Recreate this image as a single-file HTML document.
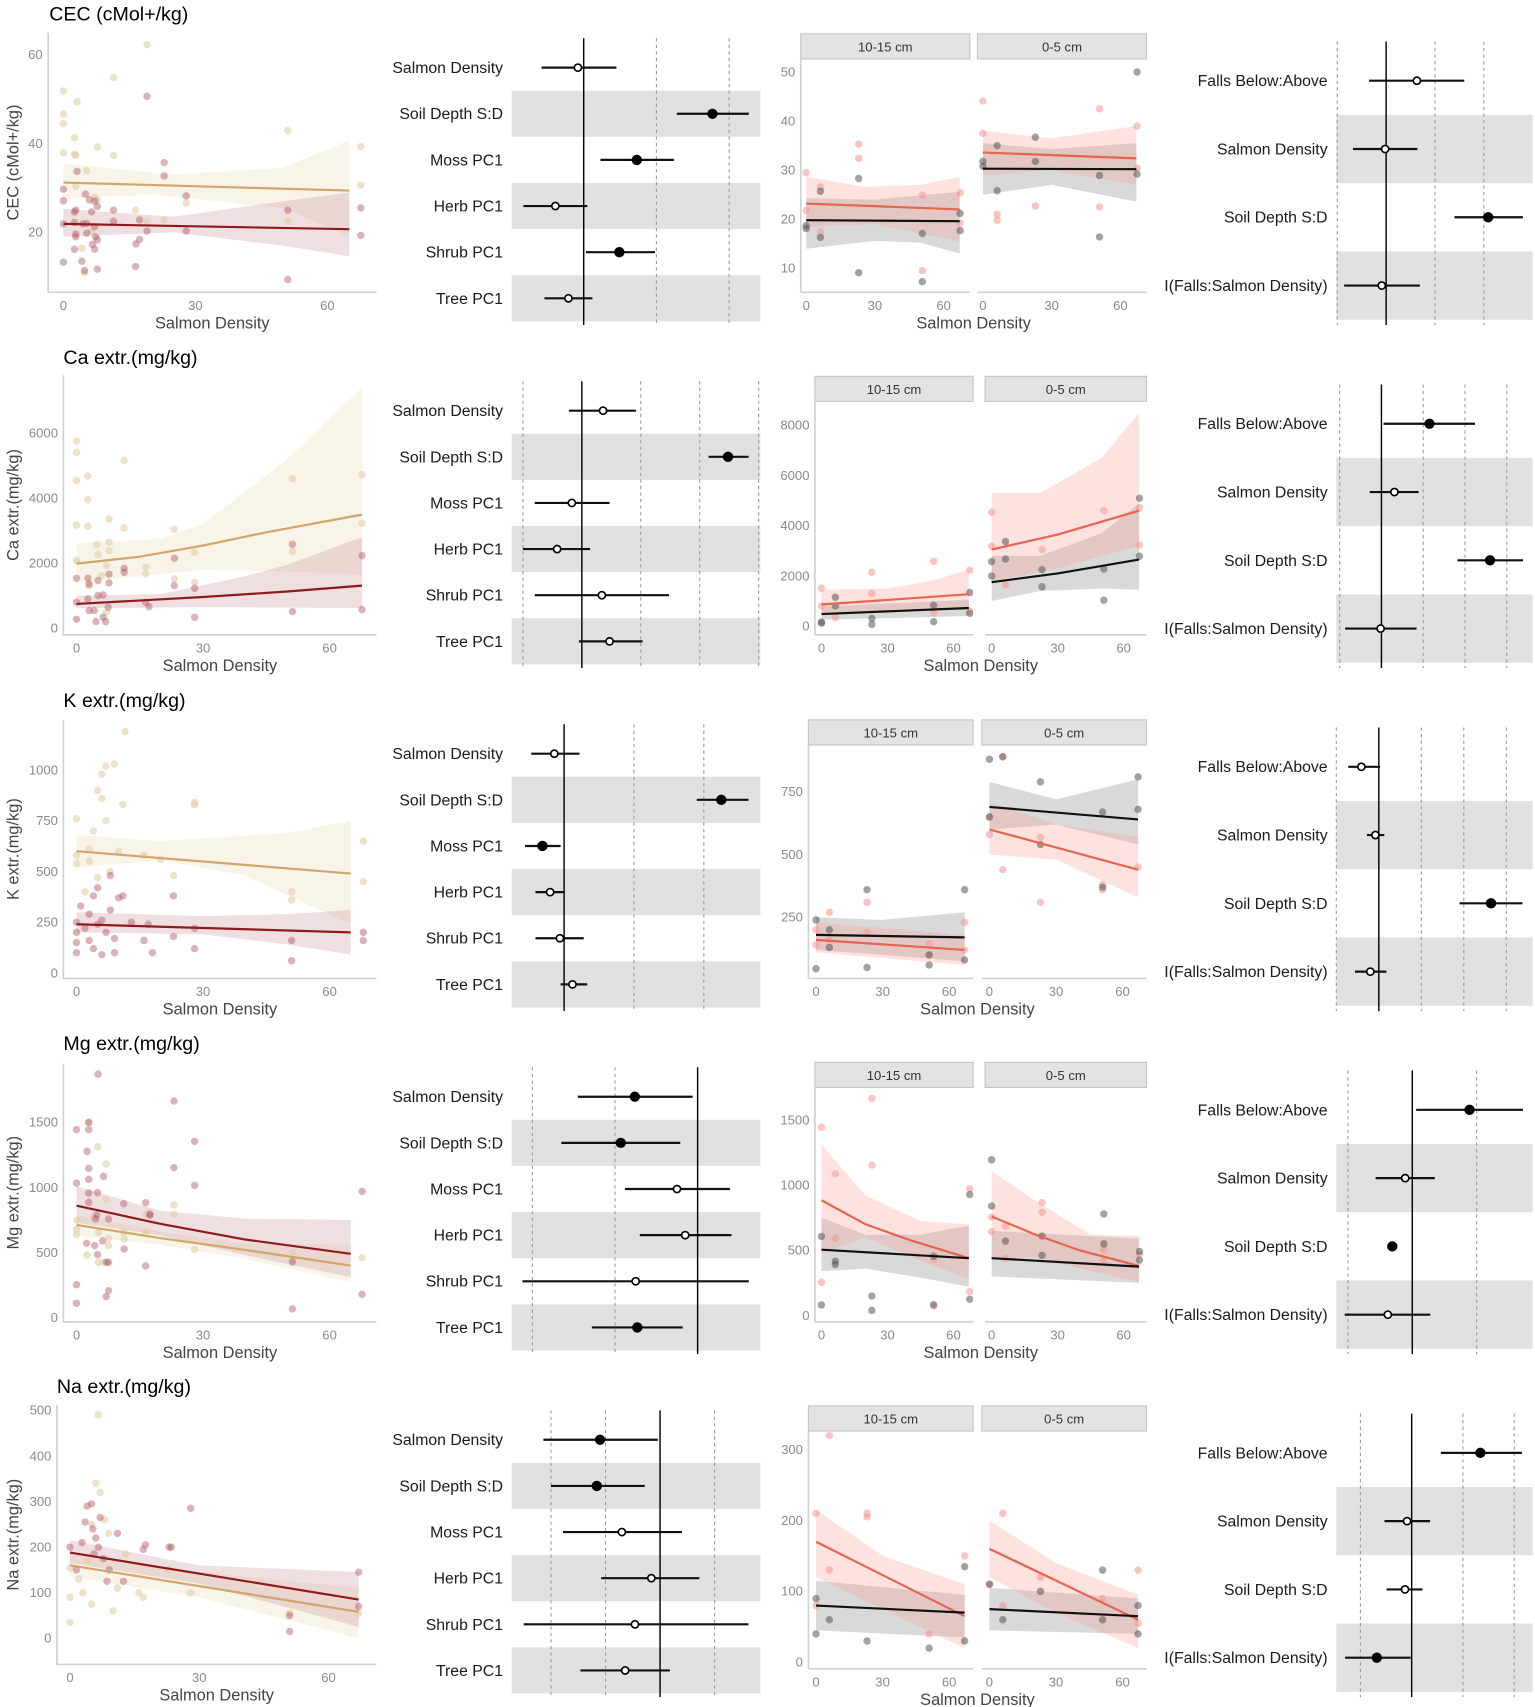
<!DOCTYPE html>
<html><head><meta charset="utf-8"><style>
html,body{margin:0;padding:0;background:#fff}
svg{display:block;font-family:"Liberation Sans",Arial,sans-serif}
</style></head><body>
<svg id="fig" width="1535" height="1707" viewBox="0 0 1407 1565" xmlns="http://www.w3.org/2000/svg"></svg>
<script>
// ===== DATA =====
const rowTitles = ["CEC (cMol+/kg)","Ca extr.(mg/kg)","K extr.(mg/kg)","Mg extr.(mg/kg)","Na extr.(mg/kg)"];
const yTitles = ["CEC (cMol+/kg)","Ca extr.(mg/kg)","K extr.(mg/kg)","Mg extr.(mg/kg)","Na extr.(mg/kg)"];
const coefLabels = ["Salmon Density","Soil Depth S:D","Moss PC1","Herb PC1","Shrub PC1","Tree PC1"];
const coef2Labels = ["Falls Below:Above","Salmon Density","Soil Depth S:D","I(Falls:Salmon Density)"];
const facetLabels = ["10-15 cm","0-5 cm"];

// Panel 1 scatter data
const cecTanPts=[[0,51.8],[0,46.6],[0,44.5],[0,37.9],[3.1,49.4],[2.5,41.3],[2.5,37.6],[2.8,37.3],[5.3,33.9],[7.7,39.2],[7.1,27.9],[7.7,27.3],[11.4,54.8],[11.4,37.3],[19,62.2],[16.4,25],[19,22.4],[22.9,22.8],[27.9,26.6],[51,42.9],[51,22.5],[67.6,39.3],[67.6,30.6],[4.2,16.4],[4.8,10.9],[6.4,20.3],[2.8,30.3]];
const cecRedPts=[[0,29.7],[0,27.1],[0,21.9],[0,13.3],[2.5,24.6],[2.8,25],[2.5,22.2],[2.5,16.2],[2.8,19.6],[2.8,19],[3.1,33.7],[4.4,21.9],[4.2,13.5],[4.8,11.4],[5,28.6],[5.3,22],[5.9,27.3],[6.4,24.6],[6.6,17.3],[7.1,16.2],[7.3,19],[7.7,25.8],[7.7,11.7],[7.7,18.3],[7.1,27],[11.4,25],[11.4,22.5],[16.5,17.4],[17.3,18.4],[16.4,12.3],[17.3,22.8],[19,50.6],[19,20.3],[22.9,35.7],[22.9,32.7],[27.9,28.2],[27.9,20.3],[51,25],[51,9.4],[67.6,25.5],[67.6,19.3],[7.1,21.3],[5.3,19.8]];
const cecTanLine=[[0,31.2],[65,29.4]];
const cecRedLine=[[0,21.9],[65,20.7]];
const cecTanUp=[[0,35.4],[25,33],[50,34.5],[65,40.7]];
const cecTanLo=[[0,27.5],[20,28.5],[50,25.5],[65,19]];
const cecRedUp=[[0,25.3],[25,23.5],[50,27],[65,29]];
const cecRedLo=[[0,19],[25,20],[50,17],[65,14.6]];

const caTanPts=[[0,5755],[0,5407],[0,4536],[0,3174],[0,2079],[2.7,4680],[2.7,3953],[2.7,3133],[4.8,2570],[5.1,2263],[7.7,3359],[7.7,2642],[7.7,2386],[7.1,1925],[11.3,5161],[11.3,3082],[16.4,1874],[16.4,1669],[23.2,3041],[23.2,1515],[28,2335],[28,1413],[51.2,4598],[51.2,2355],[67.7,4721],[67.7,3226],[5.9,1618],[7.1,492],[3,1311]];
const caRedPts=[[0,1536],[0,799],[0,276],[2.7,1536],[3,1362],[2.7,901],[3,543],[4.2,543],[4.6,205],[5.1,1464],[5.1,1004],[6.3,1024],[6.3,338],[6.9,205],[7.7,1659],[7.7,1393],[7.5,645],[11.3,1843],[11.3,1720],[16.4,799],[17.2,666],[23.2,2150],[23.2,1311],[28,1229],[28,338],[51.2,2580],[51.2,512],[67.7,2232],[67.7,573]];
const caTanLine=[[0,1987],[15,2200],[30,2540],[45,2950],[67.7,3492]];
const caRedLine=[[0,748],[30,960],[50,1130],[67.7,1311]];
const caTanUp=[[0,2600],[20,2750],[30,3200],[50,5200],[67.7,7400]];
const caTanLo=[[0,1400],[30,1800],[50,1750],[67.7,1650]];
const caRedUp=[[0,1000],[20,1050],[40,1600],[50,1950],[67.7,2800]];
const caRedLo=[[0,620],[30,650],[67.7,620]];

const kTanPts=[[0,760],[0,580],[0,540],[3,610],[5,900],[6,860],[6,980],[7,1020],[9,1030],[11,830],[11.5,1190],[7,750],[4,700],[3,550],[8,500],[10,600],[16,580],[20,560],[23,480],[28,840],[28,830],[51,400],[51,360],[68,650],[68,450],[2,400],[5,470]];
const kRedPts=[[0,100],[0,150],[0,200],[0,250],[1,330],[2,220],[3,160],[3,290],[4,120],[4,380],[5,420],[5,240],[6,260],[6,90],[7,200],[8,310],[8,480],[9,170],[9,100],[10,370],[11,380],[13,250],[16,160],[17,240],[18,100],[23,380],[23,180],[28,220],[28,120],[51,160],[51,60],[68,200],[68,160]];
const kTanLine=[[0,600],[65,490]];
const kRedLine=[[0,240],[65,200]];
const kTanUp=[[0,680],[20,650],[50,690],[65,750]];
const kTanLo=[[0,520],[20,555],[40,480],[65,240]];
const kRedUp=[[0,300],[30,280],[50,290],[65,310]];
const kRedLo=[[0,200],[30,190],[50,140],[65,90]];

const mgTanPts=[[0,748],[0,676],[0,637],[2.5,481],[2.9,1500],[5,1313],[7,1180],[7,909],[4,778],[5.2,655],[5.2,425],[7.6,609],[7.6,553],[11.2,655],[11.3,604],[16.4,655],[16.4,794],[23.1,865],[23.1,794],[28,522],[51.2,499],[51.2,425],[67.7,461],[6.4,425]];
const mgRedPts=[[0,1034],[0,1444],[0,253],[0,110],[2.5,1277],[2.9,1444],[2.9,1500],[2.9,1147],[2.9,1062],[2.9,957],[2.9,886],[2.4,571],[4.3,553],[4.8,788],[5,484],[5,960],[5.1,1871],[6.2,589],[6.4,1085],[7.1,425],[7.6,425],[7.6,758],[7,161],[7.6,207],[11.2,876],[11.3,527],[16.4,883],[16.4,397],[17.4,786],[17.4,796],[23.1,1664],[23.1,1152],[28,1354],[28,1016],[51.2,430],[51.2,67],[67.7,970],[67.7,179],[4.5,758]];
const mgTanLine=[[0,712],[20,610],[40,520],[65,400]];
const mgRedLine=[[0,860],[20,720],[40,600],[65,490]];
const mgTanUp=[[0,790],[20,660],[40,570],[65,560]];
const mgTanLo=[[0,630],[20,560],[40,450],[65,270]];
const mgRedUp=[[0,1010],[20,820],[40,760],[65,750]];
const mgRedLo=[[0,730],[20,630],[40,480],[65,310]];

const naTanPts=[[0,155],[0,90],[0,35],[2,130],[4,170],[5,250],[6,340],[6.5,490],[7,320],[8,260],[9,230],[10,60],[11,110],[13,185],[16,100],[17,90],[23,150],[28,100],[51,55],[67,55],[3,100],[5,75]];
const naRedPts=[[0,200],[1.5,150],[2.8,210],[3.5,255],[4,290],[5,295],[5.3,240],[5.6,185],[6,220],[6.6,200],[7,265],[7.8,175],[8.6,125],[9.1,150],[11,230],[12.4,125],[17,195],[17.5,205],[23,200],[23.5,200],[28,285],[51,50],[51,15],[67,145],[67,70]];
const naTanLine=[[0,160],[67,58]];
const naRedLine=[[0,188],[67,85]];
const naTanUp=[[0,185],[30,145],[67,110]];
const naTanLo=[[0,135],[30,90],[67,0]];
const naRedUp=[[0,215],[30,160],[67,145]];
const naRedLo=[[0,165],[30,120],[67,25]];

// Panel 2 coefficient data
const cecCoefEst=[-0.08,1.77,0.73,-0.39,0.49,-0.21];
const cecCoefLo=[-0.58,1.28,0.23,-0.83,0.03,-0.54];
const cecCoefHi=[0.45,2.27,1.24,0.05,0.98,0.12];
const cecCoefSig=[0,1,1,0,1,0];
const caCoefEst=[0.36,2.48,-0.17,-0.42,0.34,0.47];
const caCoefLo=[-0.22,2.15,-0.8,-1.0,-0.8,-0.05];
const caCoefHi=[0.92,2.83,0.47,0.14,1.48,1.03];
const caCoefSig=[0,1,0,0,0,0];
const kCoefEst=[-0.14,2.25,-0.31,-0.2,-0.06,0.12];
const kCoefLo=[-0.47,1.9,-0.56,-0.41,-0.41,-0.05];
const kCoefHi=[0.22,2.64,-0.05,0.0,0.28,0.33];
const kCoefSig=[0,1,1,0,0,0];
const mgCoefEst=[-0.76,-0.93,-0.25,-0.15,-0.75,-0.73];
const mgCoefLo=[-1.45,-1.65,-0.88,-0.7,-2.12,-1.28];
const mgCoefHi=[-0.06,-0.21,0.39,0.41,0.62,-0.18];
const mgCoefSig=[1,1,0,0,0,1];
const naCoefEst=[-1.1,-1.16,-0.7,-0.16,-0.46,-0.64];
const naCoefLo=[-2.14,-2.0,-1.78,-1.08,-2.5,-1.46];
const naCoefHi=[-0.04,-0.28,0.4,0.72,1.62,0.18];
const naCoefSig=[1,1,0,0,0,0];

// Panel 4 coefficient data
const cecC2Est=[0.63,-0.02,2.09,-0.09], cecC2Lo=[-0.35,-0.68,1.4,-0.86], cecC2Hi=[1.6,0.64,2.8,0.69], cecC2Sig=[0,0,1,0];
const caC2Est=[1.15,0.31,2.6,-0.02], caC2Lo=[0.05,-0.28,1.82,-0.87], caC2Hi=[2.24,0.89,3.39,0.84], caC2Sig=[1,0,1,0];
const kC2Est=[-0.41,-0.08,2.64,-0.2], kC2Lo=[-0.72,-0.28,1.9,-0.56], kC2Hi=[0.03,0.13,3.38,0.18], kC2Sig=[0,0,1,0];
const mgC2Est=[0.89,-0.11,-0.31,-0.38], mgC2Lo=[0.06,-0.57,-0.31,-1.05], mgC2Hi=[1.72,0.35,-0.31,0.28], mgC2Sig=[1,0,1,0];
const naC2Est=[1.34,-0.09,-0.13,-0.68], naC2Lo=[0.57,-0.53,-0.49,-1.3], naC2Hi=[2.15,0.36,0.21,-0.02], naC2Sig=[1,0,0,1];

// Panel 3 facet data
const cecLPink=[[0,29.5],[0,21.8],[6.2,26.6],[6.2,17.4],[22.9,35.3],[22.9,32.4],[50.7,24.9],[50.7,9.5],[67.2,25.4],[67.2,19.2]];
const cecLGrey=[[0,18.7],[0,18.1],[6.2,25.7],[6.2,16.3],[22.9,28.3],[22.9,9.1],[50.7,17.1],[50.7,7.3],[67.2,21.2],[67.2,17.7]];
const cecRPink=[[0,44.1],[0,37.5],[6.2,21],[6.2,19.8],[22.9,22.7],[50.9,42.5],[50.9,22.5],[67.3,39],[67.3,30.4]];
const cecRGrey=[[0,31.8],[0,30.8],[6.2,35],[6.2,25.8],[22.9,36.7],[22.9,31.8],[50.9,28.9],[50.9,16.4],[67.3,50],[67.3,29.2]];
const cecLRedLine=[[0,23.2],[67,22]], cecLBlkLine=[[0,19.8],[67,19.6]], cecRRedLine=[[0,33.6],[67,32.4]], cecRBlkLine=[[0,30.3],[67,30.2]];
const cecLPinkUp=[[0,28.7],[25,26.6],[50,27],[67,28.6]], cecLPinkLo=[[0,18.5],[30,19],[67,15.5]];
const cecLGreyUp=[[0,24.3],[30,24],[67,25.6]], cecLGreyLo=[[0,14],[30,15.6],[50,15.2],[67,13]];
const cecRPinkUp=[[0,38],[30,36.5],[67,39]], cecRPinkLo=[[0,29],[30,30],[67,27]];
const cecRGreyUp=[[0,35.5],[30,34.3],[67,35.5]], cecRGreyLo=[[0,25],[30,27],[67,23.6]];

const caLPink=[[0,1512],[0,803],[6.3,335],[22.9,2141],[22.9,1298],[51,2582],[51,535],[67.4,2234],[67.4,602]];
const caLGrey=[[0,160],[0,120],[6.3,1151],[6.3,803],[22.9,308],[22.9,67],[51,830],[51,174],[67.4,1338],[67.4,508]];
const caRPink=[[0,4536],[0,3184],[6.3,1646],[22.9,3051],[51,4603],[67.2,4723],[67.2,3225]];
const caRGrey=[[0,2569],[0,1994],[6.3,3372],[6.3,2676],[22.9,2248],[22.9,1565],[51,2275],[51,1030],[67.2,5098],[67.2,2783]];
const caLRedLine=[[0,860],[67,1270]], caLBlkLine=[[0,480],[67,720]], caRRedLine=[[0,3050],[30,3650],[67,4600]], caRBlkLine=[[0,1750],[30,2100],[67,2650]];
const caLPinkUp=[[0,1450],[30,1500],[50,1800],[67,2250]], caLPinkLo=[[0,500],[67,650]];
const caLGreyUp=[[0,780],[67,1050]], caLGreyLo=[[0,250],[67,400]];
const caRPinkUp=[[0,5300],[22,5300],[50,6700],[67,8500]], caRPinkLo=[[0,1800],[30,2300],[67,3200]];
const caRGreyUp=[[0,2800],[22,2800],[50,3700],[67,4900]], caRGreyLo=[[0,1000],[22,1400],[50,1500],[67,1450]];

const kLPink=[[0,200],[6,270],[23,310],[23,190],[51,145],[51,100],[67,230],[67,120],[0,140],[6,160]];
const kLGrey=[[0,240],[0,45],[6,200],[6,130],[23,360],[23,50],[51,100],[51,60],[67,360],[67,80]];
const kRPink=[[0,580],[0,650],[6,890],[6,440],[23,570],[23,310],[51,380],[51,360],[67,450]];
const kRGrey=[[0,650],[0,880],[6,890],[23,790],[23,540],[51,670],[51,370],[67,810],[67,680]];
const kLRedLine=[[0,160],[67,120]], kLBlkLine=[[0,180],[67,170]], kRRedLine=[[0,600],[67,440]], kRBlkLine=[[0,690],[67,640]];
const kLPinkUp=[[0,230],[67,180]], kLPinkLo=[[0,110],[67,60]];
const kLGreyUp=[[0,250],[30,240],[67,270]], kLGreyLo=[[0,120],[67,75]];
const kRPinkUp=[[0,710],[30,620],[67,570]], kRPinkLo=[[0,500],[30,480],[67,330]];
const kRGreyUp=[[0,790],[30,720],[67,800]], kRGreyLo=[[0,600],[30,620],[67,540]];

const mgLPink=[[0,1446],[0,255],[6.3,1088],[6.3,592],[22.9,1667],[22.9,1155],[51,72],[51,432],[67.4,973],[67.4,183]];
const mgLGrey=[[0,607],[0,80],[6.3,417],[6.3,391],[22.9,149],[22.9,39],[51,455],[51,82],[67.4,929],[67.4,124]];
const mgRPink=[[0,754],[0,643],[6.3,684],[6.3,437],[22.9,867],[22.9,792],[51,504],[51,425],[67.2,468]];
const mgRGrey=[[0,1196],[0,841],[6.3,571],[22.9,610],[22.9,461],[51,780],[51,550],[67.2,491],[67.2,425]];
const mgLRedLine=[[0,885],[20,700],[40,580],[67,440]], mgLBlkLine=[[0,505],[67,440]], mgRRedLine=[[0,760],[20,620],[40,500],[67,380]], mgRBlkLine=[[0,440],[67,375]];
const mgLPinkUp=[[0,1310],[20,920],[45,725],[67,700]], mgLPinkLo=[[0,480],[20,600],[45,420],[67,280]];
const mgLGreyUp=[[0,750],[20,620],[45,620],[67,690]], mgLGreyLo=[[0,340],[20,360],[45,290],[67,220]];
const mgRPinkUp=[[0,1110],[20,880],[45,620],[67,610]], mgRPinkLo=[[0,430],[20,450],[45,340],[67,260]];
const mgRGreyUp=[[0,650],[67,590]], mgRGreyLo=[[0,300],[67,250]];

const naLPink=[[0,210],[6,320],[23,210],[23,205],[51,40],[67,150],[0,80],[6,130]];
const naLGrey=[[0,90],[0,40],[6,60],[23,30],[51,20],[67,135],[67,30]];
const naRPink=[[0,110],[6,210],[23,120],[51,90],[67,130],[67,55],[6,80]];
const naRGrey=[[0,110],[6,60],[23,100],[51,130],[51,60],[67,80],[67,40]];
const naLRedLine=[[0,170],[67,65]], naLBlkLine=[[0,80],[67,70]], naRRedLine=[[0,160],[67,60]], naRBlkLine=[[0,75],[67,65]];
const naLPinkUp=[[0,215],[30,150],[67,110]], naLPinkLo=[[0,120],[30,75],[67,20]];
const naLGreyUp=[[0,115],[67,95]], naLGreyLo=[[0,45],[67,35]];
const naRPinkUp=[[0,200],[30,140],[67,95]], naRPinkLo=[[0,120],[30,70],[67,20]];
const naRGreyUp=[[0,105],[67,90]], naRGreyLo=[[0,45],[67,40]];

// ===== LAYOUT =====
const NS="http://www.w3.org/2000/svg";
const svg=document.getElementById('fig');
function el(tag,attrs,parent){const e=document.createElementNS(NS,tag);for(const k in attrs)e.setAttribute(k,attrs[k]);(parent||svg).appendChild(e);return e;}
function lin(v0,p0,v1,p1){return v=>p0+(v-v0)*(p1-p0)/(v1-v0);}
function txt(x,y,s,attrs,parent){const t=el('text',Object.assign({x:x,y:y},attrs),parent);t.textContent=s;return t;}

const rowOff=[0,314.5,629,943.5,1258];
const p1L=[
 {ax:44,x0:58,x60:300,yv0:20,yp0:213,yv1:60,yp1:50,yb:268,yt:30,yt2:[20,40,60],tx:45},
 {ax:58,x0:70,x60:302,yv0:0,yp0:576,yv1:6000,yp1:397,yb:582,yt:344,yt2:[0,2000,4000,6000],tx:58},
 {ax:58,x0:70,x60:302,yv0:0,yp0:892,yv1:1000,yp1:706,yb:897,yt:660,yt2:[0,250,500,750,1000],tx:58},
 {ax:58,x0:70,x60:302,yv0:0,yp0:1208,yv1:1500,yp1:1029,yb:1212,yt:975,yt2:[0,500,1000,1500],tx:58},
 {ax:52,x0:64,x60:301,yv0:0,yp0:1502,yv1:500,yp1:1293,yb:1526,yt:1288,yt2:[0,100,200,300,400,500],tx:52}];
const p3L=[
 {L:[734,889],R:[896,1051],xl:[739,865],xr:[901,1027],st:31,yb:268,yv0:10,yp0:246,yv1:50,yp1:66,yt2:[10,20,30,40,50]},
 {L:[747,892],R:[903,1051],xl:[753,874],xr:[909,1030],st:345,yb:582,yv0:0,yp0:574,yv1:8000,yp1:390,yt2:[0,2000,4000,6000,8000]},
 {L:[741,892],R:[900,1051],xl:[748,870],xr:[907,1029],st:660,yb:897,yv0:250,yp0:841,yv1:750,yp1:726,yt2:[250,500,750]},
 {L:[747,892],R:[903,1051],xl:[753,874],xr:[909,1030],st:974,yb:1212,yv0:0,yp0:1206,yv1:1500,yp1:1027,yt2:[0,500,1000,1500]},
 {L:[741,892],R:[900,1051],xl:[748,870],xr:[907,1029],st:1289,yb:1530,yv0:0,yp0:1524,yv1:300,yp1:1329,yt2:[0,100,200,300]}];
const p2Dom=[[-0.99,2.43],[-1.19,3.03],[-0.75,2.81],[-2.25,0.76],[-2.72,1.84]];
const p2Grid=[[1,2],[-1,1,2,3],[1,2],[-2,-1],[-2,-1,1]];
const p4Dom=[[-1.02,3.0],[-1.08,3.62],[-1.0,3.62],[-1.18,1.87],[-1.47,2.36]];
const p4Grid=[[-1,1,2],[-1,1,2,3],[-1,1,2,3],[-1,1],[-1,1,2]];

const rowsData=[
 {tan:cecTanPts,red:cecRedPts,tl:cecTanLine,rl:cecRedLine,tu:cecTanUp,tlo:cecTanLo,ru:cecRedUp,rlo:cecRedLo,
  ce:cecCoefEst,clo:cecCoefLo,chi:cecCoefHi,cs:cecCoefSig,c2e:cecC2Est,c2lo:cecC2Lo,c2hi:cecC2Hi,c2s:cecC2Sig,
  f:[[cecLPink,cecLGrey,cecLRedLine,cecLBlkLine,cecLPinkUp,cecLPinkLo,cecLGreyUp,cecLGreyLo],[cecRPink,cecRGrey,cecRRedLine,cecRBlkLine,cecRPinkUp,cecRPinkLo,cecRGreyUp,cecRGreyLo]]},
 {tan:caTanPts,red:caRedPts,tl:caTanLine,rl:caRedLine,tu:caTanUp,tlo:caTanLo,ru:caRedUp,rlo:caRedLo,
  ce:caCoefEst,clo:caCoefLo,chi:caCoefHi,cs:caCoefSig,c2e:caC2Est,c2lo:caC2Lo,c2hi:caC2Hi,c2s:caC2Sig,
  f:[[caLPink,caLGrey,caLRedLine,caLBlkLine,caLPinkUp,caLPinkLo,caLGreyUp,caLGreyLo],[caRPink,caRGrey,caRRedLine,caRBlkLine,caRPinkUp,caRPinkLo,caRGreyUp,caRGreyLo]]},
 {tan:kTanPts,red:kRedPts,tl:kTanLine,rl:kRedLine,tu:kTanUp,tlo:kTanLo,ru:kRedUp,rlo:kRedLo,
  ce:kCoefEst,clo:kCoefLo,chi:kCoefHi,cs:kCoefSig,c2e:kC2Est,c2lo:kC2Lo,c2hi:kC2Hi,c2s:kC2Sig,
  f:[[kLPink,kLGrey,kLRedLine,kLBlkLine,kLPinkUp,kLPinkLo,kLGreyUp,kLGreyLo],[kRPink,kRGrey,kRRedLine,kRBlkLine,kRPinkUp,kRPinkLo,kRGreyUp,kRGreyLo]]},
 {tan:mgTanPts,red:mgRedPts,tl:mgTanLine,rl:mgRedLine,tu:mgTanUp,tlo:mgTanLo,ru:mgRedUp,rlo:mgRedLo,
  ce:mgCoefEst,clo:mgCoefLo,chi:mgCoefHi,cs:mgCoefSig,c2e:mgC2Est,c2lo:mgC2Lo,c2hi:mgC2Hi,c2s:mgC2Sig,
  f:[[mgLPink,mgLGrey,mgLRedLine,mgLBlkLine,mgLPinkUp,mgLPinkLo,mgLGreyUp,mgLGreyLo],[mgRPink,mgRGrey,mgRRedLine,mgRBlkLine,mgRPinkUp,mgRPinkLo,mgRGreyUp,mgRGreyLo]]},
 {tan:naTanPts,red:naRedPts,tl:naTanLine,rl:naRedLine,tu:naTanUp,tlo:naTanLo,ru:naRedUp,rlo:naRedLo,
  ce:naCoefEst,clo:naCoefLo,chi:naCoefHi,cs:naCoefSig,c2e:naC2Est,c2lo:naC2Lo,c2hi:naC2Hi,c2s:naC2Sig,
  f:[[naLPink,naLGrey,naLRedLine,naLBlkLine,naLPinkUp,naLPinkLo,naLGreyUp,naLGreyLo],[naRPink,naRGrey,naRRedLine,naRBlkLine,naRPinkUp,naRPinkLo,naRGreyUp,naRGreyLo]]}];

function ribbon(up,lo,sx,sy,fill,g){
  const pts=up.map(p=>sx(p[0])+','+sy(p[1])).concat(lo.slice().reverse().map(p=>sx(p[0])+','+sy(p[1])));
  const e=el('polygon',{points:pts.join(' '),fill:fill},g);
  
  
}
function line(arr,sx,sy,color,w,g){
  const e=el('polyline',{points:arr.map(p=>sx(p[0])+','+sy(p[1])).join(' '),fill:'none',stroke:color,'stroke-width':w},g);
  
  
}
function dots(arr,sx,sy,color,g){
  arr.forEach(p=>{
    const c=el('circle',{cx:sx(p[0]),cy:sy(p[1]),r:3.4,fill:color},g);
    
    
  });
}
const TICK={fill:'#8a8a8a','font-size':12};

rowsData.forEach((d,r)=>{
  const o=rowOff[r];
  const g=el('g',{});
  
  
  const L=p1L[r];
  const sx=lin(0,L.x0,60,L.x60), sy=lin(L.yv0,L.yp0,L.yv1,L.yp1);
  const g1=el('g',{},g);
  
  
  const t=txt(L.tx,(r===0?19:o+19),rowTitles[r],{'font-size':18,fill:'#000'},g1);
  
  
  const cp='clip'+r;
  const cl=el('clipPath',{id:cp},g1);
  el('rect',{x:L.ax,y:L.yt,width:345-L.ax,height:L.yb-L.yt},cl);
  const gc=el('g',{'clip-path':'url(#'+cp+')'},g1);
  ribbon(d.tu,d.tlo,sx,sy,'rgba(240,230,205,0.45)',gc);
  ribbon(d.ru,d.rlo,sx,sy,'rgba(205,150,155,0.3)',gc);
  dots(d.tan,sx,sy,'rgba(225,205,165,0.6)',gc);
  dots(d.red,sx,sy,'rgba(175,85,95,0.45)',gc);
  line(d.tl,sx,sy,'#d2a56b',2,gc);
  line(d.rl,sx,sy,'#8e1b1b',2,gc);
  const ax=el('path',{d:`M${L.ax},${L.yt}V${L.yb}H345`,stroke:'#d0d0d0','stroke-width':1.5,fill:'none'},g1);
  
  
  L.yt2.forEach(v=>{const e=txt(L.ax-5,sy(v)+4,String(v),Object.assign({'text-anchor':'end'},TICK),g1);
    
    });
  [0,30,60].forEach(v=>{const e=txt(sx(v),L.yb+16,String(v),Object.assign({'text-anchor':'middle'},TICK),g1);
    
    });
  const xt=txt((L.ax+345)/2,L.yb+33,'Salmon Density',{'text-anchor':'middle','font-size':15,fill:'#444'},g1);
  
  
  const cy=(L.yt+L.yb)/2;
  const yt=txt(0,0,yTitles[r],{'text-anchor':'middle','font-size':15,fill:'#444',transform:`translate(17,${cy}) rotate(-90)`},g1);
  
  

  const g2=el('g',{},g);
  
  
  const cx=lin(p2Dom[r][0],469,p2Dom[r][1],697);
  coefLabels.forEach((lab,i)=>{
    const yc=o+62+i*42.3;
    if(i%2===1){const b=el('rect',{x:469,y:yc-21.15,width:228,height:42.3,fill:'#e1e1e1'},g2);
      
      }
    const e=txt(461,yc+5,lab,{'text-anchor':'end','font-size':14.5,fill:'#1a1a1a'},g2);
    
    
  });
  p2Grid[r].forEach(v=>{const e=el('line',{x1:cx(v),x2:cx(v),y1:o+35,y2:o+298,stroke:'#999','stroke-dasharray':'3,3','stroke-width':1},g2);
    
    });
  const z=el('line',{x1:cx(0),x2:cx(0),y1:o+35,y2:o+298,stroke:'#000','stroke-width':1.3},g2);
  
  
  coefLabels.forEach((lab,i)=>{
    const yc=o+62+i*42.3;
    const w=el('line',{x1:cx(d.clo[i]),x2:cx(d.chi[i]),y1:yc,y2:yc,stroke:'#111','stroke-width':2},g2);
    
    
    const p=el('circle',{cx:cx(d.ce[i]),cy:yc,r:d.cs[i]?4:3.3,fill:d.cs[i]?'#000':'#fff',stroke:'#000','stroke-width':1.5},g2);
    
    
  });

  const F=p3L[r];
  const g3=el('g',{},g);
  
  
  const fy=lin(F.yv0,F.yp0,F.yv1,F.yp1);
  [0,1].forEach(k=>{
    const box=k?F.R:F.L, xs=k?F.xr:F.xl;
    const fx=lin(0,xs[0],60,xs[1]);
    const s=el('rect',{x:box[0],y:F.st,width:box[1]-box[0],height:23,fill:'#e3e3e3',stroke:'#c4c4c4','stroke-width':1},g3);
    
    
    const st=txt((box[0]+box[1])/2,F.st+16,facetLabels[k],{'text-anchor':'middle','font-size':12,fill:'#333'},g3);
    
    
    const id='fc'+r+'_'+k;
    const c=el('clipPath',{id:id},g3);
    el('rect',{x:box[0],y:F.st+23,width:box[1]-box[0],height:F.yb-F.st-23},c);
    const gg=el('g',{'clip-path':'url(#'+id+')'},g3);
    const fd=d.f[k];
    ribbon(fd[6],fd[7],fx,fy,'rgba(120,120,120,0.28)',gg);
    ribbon(fd[4],fd[5],fx,fy,'rgba(250,160,150,0.3)',gg);
    dots(fd[0],fx,fy,'rgba(245,150,140,0.55)',gg);
    dots(fd[1],fx,fy,'rgba(85,85,85,0.55)',gg);
    line(fd[2],fx,fy,'#e8644f',2,gg);
    line(fd[3],fx,fy,'#111',2,gg);
    const b=el('line',{x1:box[0],x2:box[1],y1:F.yb,y2:F.yb,stroke:'#d0d0d0','stroke-width':1.5},g3);
    
    
    [0,30,60].forEach(v=>{const e=txt(fx(v),F.yb+16,String(v),Object.assign({'text-anchor':'middle'},TICK),g3);
      
      });
  });
  const la=el('line',{x1:F.L[0],x2:F.L[0],y1:F.st+23,y2:F.yb,stroke:'#d0d0d0','stroke-width':1.5},g3);
  
  
  F.yt2.forEach(v=>{const e=txt(F.L[0]-5,fy(v)+4,String(v),Object.assign({'text-anchor':'end'},TICK),g3);
    
    });
  const fxt=txt((F.L[0]+F.R[1])/2,F.yb+33,'Salmon Density',{'text-anchor':'middle','font-size':15,fill:'#444'},g3);
  
  

  const g4=el('g',{},g);
  
  
  const qx=lin(p4Dom[r][0],1225,p4Dom[r][1],1405);
  coef2Labels.forEach((lab,i)=>{
    const yc=o+74+i*62.6;
    if(i%2===1){const b=el('rect',{x:1225,y:yc-31.3,width:180,height:62.6,fill:'#e1e1e1'},g4);
      
      }
    const e=txt(1217,yc+5,lab,{'text-anchor':'end','font-size':14.5,fill:'#1a1a1a'},g4);
    
    
  });
  p4Grid[r].forEach(v=>{const e=el('line',{x1:qx(v),x2:qx(v),y1:o+38,y2:o+298,stroke:'#999','stroke-dasharray':'3,3','stroke-width':1},g4);
    
    });
  const z2=el('line',{x1:qx(0),x2:qx(0),y1:o+38,y2:o+298,stroke:'#000','stroke-width':1.3},g4);
  
  
  coef2Labels.forEach((lab,i)=>{
    const yc=o+74+i*62.6;
    const w=el('line',{x1:qx(d.c2lo[i]),x2:qx(d.c2hi[i]),y1:yc,y2:yc,stroke:'#111','stroke-width':2},g4);
    
    
    const p=el('circle',{cx:qx(d.c2e[i]),cy:yc,r:d.c2s[i]?4:3.3,fill:d.c2s[i]?'#000':'#fff',stroke:'#000','stroke-width':1.5},g4);
    
    
  });
});
</script>
</body></html>
